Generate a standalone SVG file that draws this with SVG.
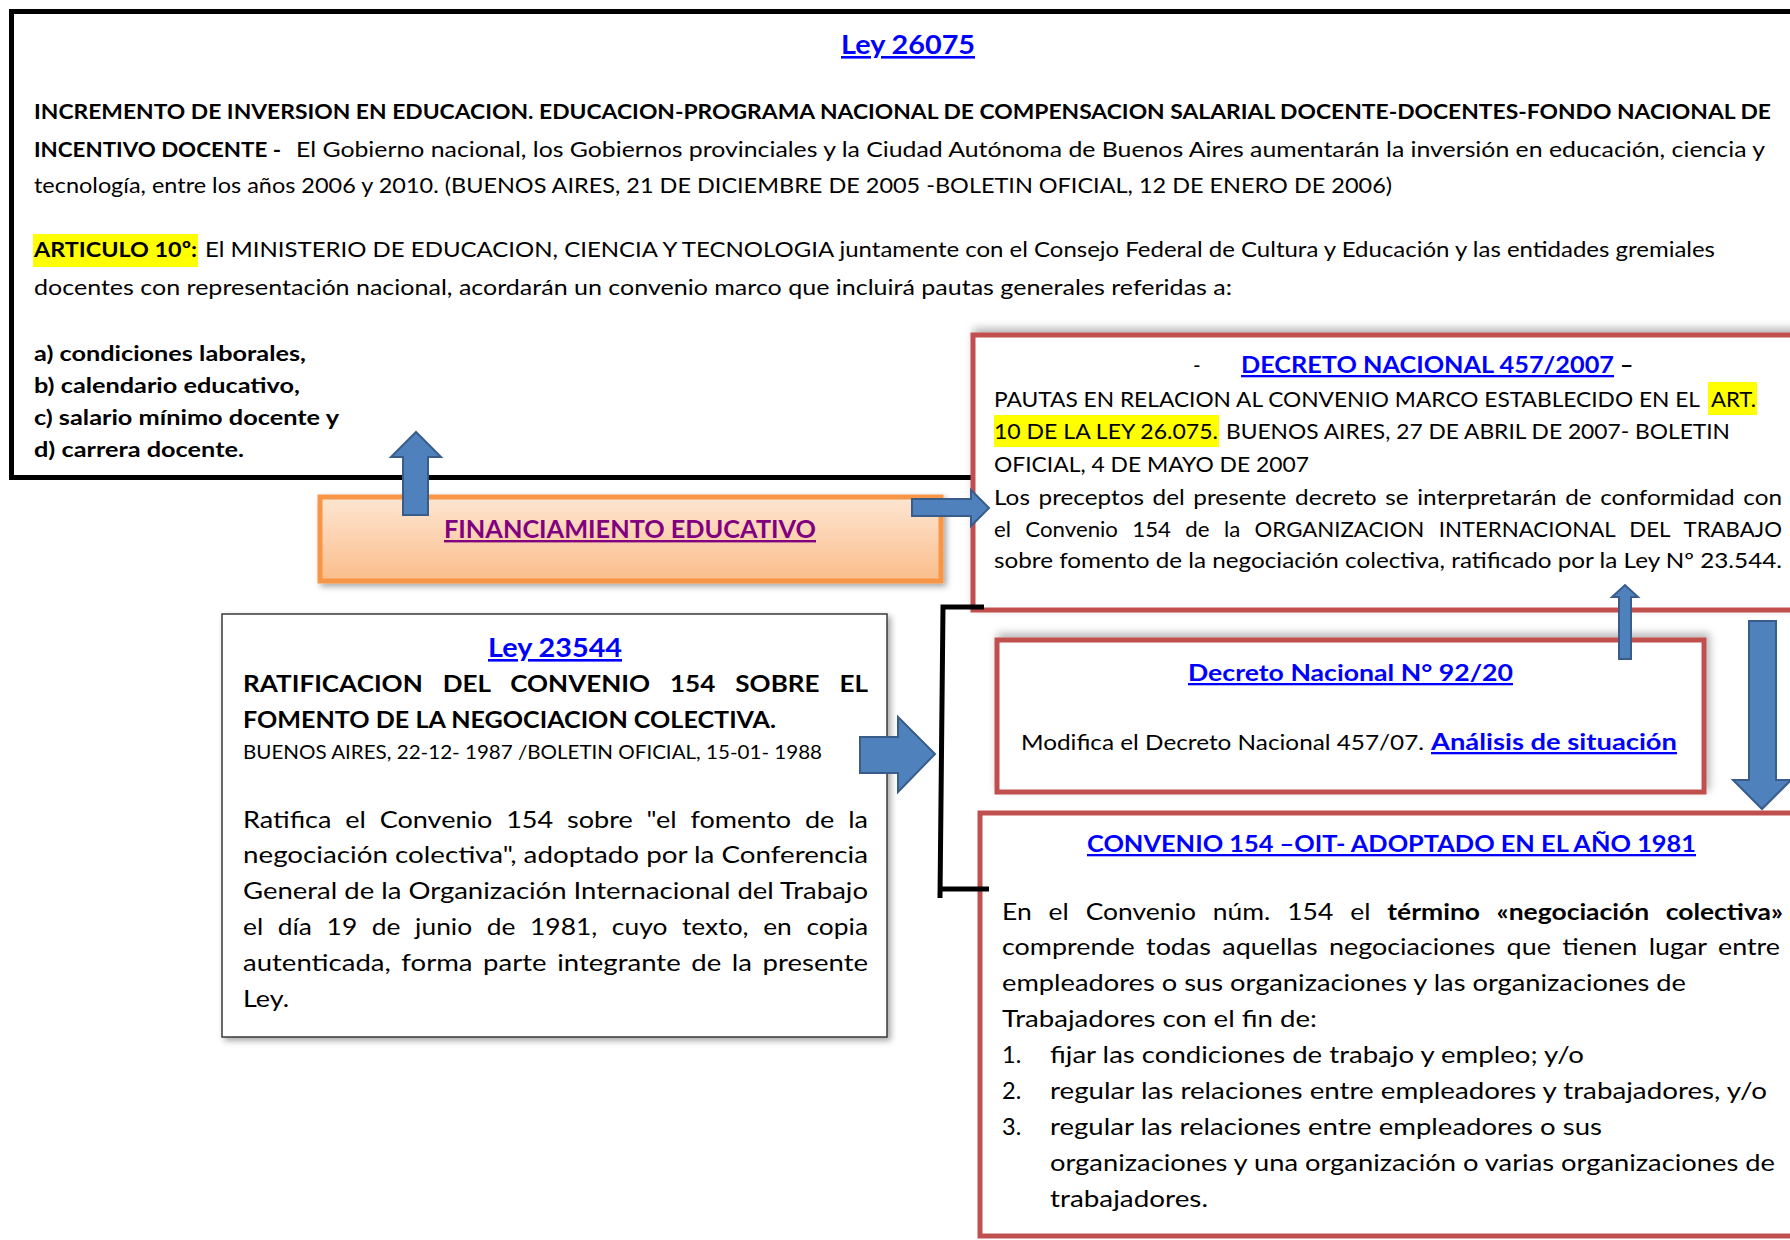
<svg xmlns="http://www.w3.org/2000/svg" width="1790" height="1240" viewBox="0 0 1790 1240">
<defs>
<style>
.t{font-family:Lato,"Liberation Sans",sans-serif;fill:#000}
.b{font-weight:bold}
.lnk{font-weight:bold;fill:#0000ff;text-decoration:underline}
.pur{font-weight:bold;fill:#800080;text-decoration:underline}
.red{fill:#fff;stroke:#c0504d;stroke-width:5}
.arr{fill:#4f81bd;stroke:#385d8a;stroke-width:2;stroke-linejoin:miter}
.hl{fill:#ffff00}
</style>
<linearGradient id="og" x1="0" y1="0" x2="0" y2="1">
<stop offset="0" stop-color="#fde6d2"/>
<stop offset="1" stop-color="#fbbd8b"/>
</linearGradient>
<filter id="sh" x="-5%" y="-10%" width="110%" height="125%">
<feDropShadow dx="3" dy="3" stdDeviation="3" flood-color="#000" flood-opacity="0.35"/>
</filter>
<filter id="shu" x="-5%" y="-15%" width="110%" height="130%">
<feDropShadow dx="3" dy="-4" stdDeviation="4" flood-color="#000" flood-opacity="0.3"/>
</filter>
</defs>
<rect width="1790" height="1240" fill="#fff"/>

<g id="ley26075">
<rect x="11.5" y="11.5" width="1800" height="466" fill="#fff" stroke="#000" stroke-width="5"/>
<text class="t lnk" x="841" y="54" font-size="26" textLength="134" lengthAdjust="spacingAndGlyphs">Ley 26075</text>
<text class="t b" x="34" y="119" font-size="21.5" textLength="1737" lengthAdjust="spacingAndGlyphs">INCREMENTO DE INVERSION EN EDUCACION. EDUCACION-PROGRAMA NACIONAL DE COMPENSACION SALARIAL DOCENTE-DOCENTES-FONDO NACIONAL DE</text>
<text class="t b" x="34" y="157" font-size="21.5" textLength="247" lengthAdjust="spacingAndGlyphs">INCENTIVO DOCENTE -</text>
<text class="t" x="296" y="157" font-size="21.5" textLength="1469" lengthAdjust="spacingAndGlyphs">El Gobierno nacional, los Gobiernos provinciales y la Ciudad Autónoma de Buenos Aires aumentarán la inversión en educación, ciencia y</text>
<text class="t" x="34" y="193" font-size="21.5" textLength="1358" lengthAdjust="spacingAndGlyphs">tecnología, entre los años 2006 y 2010.  (BUENOS AIRES, 21 DE DICIEMBRE DE 2005 -BOLETIN OFICIAL, 12 DE ENERO DE 2006)</text>
<rect class="hl" x="33" y="234" width="165" height="33"/>
<text class="t b" x="34" y="257" font-size="21.5" textLength="163" lengthAdjust="spacingAndGlyphs">ARTICULO 10º:</text>
<text class="t" x="205" y="257" font-size="21.5" textLength="1510" lengthAdjust="spacingAndGlyphs">El MINISTERIO DE EDUCACION, CIENCIA Y TECNOLOGIA juntamente con el Consejo Federal de Cultura y Educación y las entidades gremiales</text>
<text class="t" x="34" y="295" font-size="21.5" textLength="1198" lengthAdjust="spacingAndGlyphs">docentes con representación nacional, acordarán un convenio marco que incluirá pautas generales referidas a:</text>
<text class="t b" x="34" y="361" font-size="21.5" textLength="272" lengthAdjust="spacingAndGlyphs">a) condiciones laborales,</text>
<text class="t b" x="34" y="393" font-size="21.5" textLength="266" lengthAdjust="spacingAndGlyphs">b) calendario educativo,</text>
<text class="t b" x="34" y="425" font-size="21.5" textLength="305" lengthAdjust="spacingAndGlyphs">c) salario mínimo docente y</text>
<text class="t b" x="34" y="457" font-size="21.5" textLength="210" lengthAdjust="spacingAndGlyphs">d) carrera docente.</text>
</g>

<g id="financiamiento">
<rect x="320" y="497" width="621" height="84" fill="url(#og)" stroke="#f79646" stroke-width="5" filter="url(#sh)"/>
<text class="t pur" x="444" y="538" font-size="24" textLength="372" lengthAdjust="spacingAndGlyphs">FINANCIAMIENTO EDUCATIVO</text>
</g>

<g id="decreto457">
<rect class="red" x="973" y="335" width="900" height="275" filter="url(#shu)"/>
<text class="t" x="1193" y="373" font-size="20.5">-</text>
<text class="t lnk" x="1241" y="373" font-size="23" textLength="373" lengthAdjust="spacingAndGlyphs">DECRETO NACIONAL 457/2007</text>
<text class="t b" x="1620" y="373" font-size="23">–</text>
<rect class="hl" x="1708" y="382" width="49" height="33"/>
<rect class="hl" x="994" y="415" width="225" height="32"/>
<text class="t" x="994" y="407" font-size="20.5" textLength="706" lengthAdjust="spacingAndGlyphs">PAUTAS EN RELACION AL CONVENIO MARCO ESTABLECIDO EN EL</text>
<text class="t" x="1711" y="407" font-size="20.5" textLength="45" lengthAdjust="spacingAndGlyphs">ART.</text>
<text class="t" x="994" y="439" font-size="20.5" textLength="224" lengthAdjust="spacingAndGlyphs">10 DE LA LEY 26.075.</text>
<text class="t" x="1226" y="439" font-size="20.5" textLength="504" lengthAdjust="spacingAndGlyphs">BUENOS AIRES, 27 DE ABRIL DE 2007- BOLETIN</text>
<text class="t" x="994" y="472" font-size="20.5" textLength="315" lengthAdjust="spacingAndGlyphs">OFICIAL, 4 DE MAYO DE 2007</text>
<text class="t" x="994" y="505" font-size="20.5" word-spacing="2" textLength="788" lengthAdjust="spacingAndGlyphs">Los preceptos del presente decreto se interpretarán de conformidad con</text>
<text class="t" x="994" y="537" font-size="20.5" word-spacing="8" textLength="788" lengthAdjust="spacingAndGlyphs">el Convenio 154 de la ORGANIZACION INTERNACIONAL DEL TRABAJO</text>
<text class="t" x="994" y="568" font-size="20.5" textLength="788" lengthAdjust="spacingAndGlyphs">sobre fomento de la negociación colectiva, ratificado por la Ley Nº 23.544.</text>
</g>

<g id="decreto92">
<rect class="red" x="997" y="640" width="707" height="152" filter="url(#shu)"/>
<text class="t lnk" x="1188" y="681" font-size="23" textLength="325" lengthAdjust="spacingAndGlyphs">Decreto Nacional N° 92/20</text>
<text class="t" x="1021" y="750" font-size="21.5" textLength="403" lengthAdjust="spacingAndGlyphs">Modifica el Decreto Nacional 457/07.</text>
<text class="t lnk" x="1431" y="750" font-size="23" textLength="246" lengthAdjust="spacingAndGlyphs">Análisis de situación</text>
</g>

<g id="ley23544">
<rect x="222" y="614" width="665" height="423" fill="#fff" stroke="#3a3a3a" stroke-width="1.5" filter="url(#sh)"/>
<text class="t lnk" x="488" y="657" font-size="26" textLength="134" lengthAdjust="spacingAndGlyphs">Ley 23544</text>
<text class="t b" x="243" y="692" font-size="23" word-spacing="12" textLength="625" lengthAdjust="spacingAndGlyphs">RATIFICACION DEL CONVENIO 154 SOBRE EL</text>
<text class="t b" x="243" y="728" font-size="23" textLength="533" lengthAdjust="spacingAndGlyphs">FOMENTO DE LA NEGOCIACION COLECTIVA.</text>
<text class="t" x="243" y="759" font-size="19.5" textLength="579" lengthAdjust="spacingAndGlyphs">BUENOS AIRES, 22-12- 1987 /BOLETIN OFICIAL, 15-01- 1988</text>
<text class="t" x="243" y="828" font-size="23.5" word-spacing="6" textLength="625" lengthAdjust="spacingAndGlyphs">Ratifica el Convenio 154 sobre "el fomento de la</text>
<text class="t" x="243" y="863" font-size="23.5" textLength="625" lengthAdjust="spacingAndGlyphs">negociación colectiva", adoptado por la Conferencia</text>
<text class="t" x="243" y="899" font-size="23.5" textLength="625" lengthAdjust="spacingAndGlyphs">General de la Organización Internacional del Trabajo</text>
<text class="t" x="243" y="935" font-size="23.5" word-spacing="7" textLength="625" lengthAdjust="spacingAndGlyphs">el día 19 de junio de 1981, cuyo texto, en copia</text>
<text class="t" x="243" y="971" font-size="23.5" word-spacing="3" textLength="625" lengthAdjust="spacingAndGlyphs">autenticada, forma parte integrante de la presente</text>
<text class="t" x="243" y="1007" font-size="23.5" textLength="46" lengthAdjust="spacingAndGlyphs">Ley.</text>
</g>

<g id="convenio154">
<rect class="red" x="980" y="813" width="900" height="423"/>
<text class="t lnk" x="1087" y="852" font-size="23" textLength="609" lengthAdjust="spacingAndGlyphs">CONVENIO 154 –OIT- ADOPTADO EN EL AÑO 1981</text>
<text class="t" x="1002" y="920" font-size="23.5" word-spacing="9" textLength="781" lengthAdjust="spacingAndGlyphs">En el Convenio núm. 154 el <tspan class="b">término «negociación colectiva»</tspan></text>
<text class="t" x="1002" y="955" font-size="23.5" word-spacing="4" textLength="778" lengthAdjust="spacingAndGlyphs">comprende todas aquellas negociaciones que tienen lugar entre</text>
<text class="t" x="1002" y="991" font-size="23.5" textLength="684" lengthAdjust="spacingAndGlyphs">empleadores o sus organizaciones y las organizaciones de</text>
<text class="t" x="1002" y="1027" font-size="23.5" textLength="315" lengthAdjust="spacingAndGlyphs">Trabajadores con el fin de:</text>
<text class="t" x="1002" y="1063" font-size="23.5">1.</text>
<text class="t" x="1050" y="1063" font-size="23.5" textLength="534" lengthAdjust="spacingAndGlyphs">fijar las condiciones de trabajo y empleo; y/o</text>
<text class="t" x="1002" y="1099" font-size="23.5">2.</text>
<text class="t" x="1050" y="1099" font-size="23.5" textLength="717" lengthAdjust="spacingAndGlyphs">regular las relaciones entre empleadores y trabajadores, y/o</text>
<text class="t" x="1002" y="1135" font-size="23.5">3.</text>
<text class="t" x="1050" y="1135" font-size="23.5" textLength="552" lengthAdjust="spacingAndGlyphs">regular las relaciones entre empleadores o sus</text>
<text class="t" x="1050" y="1171" font-size="23.5" textLength="725" lengthAdjust="spacingAndGlyphs">organizaciones y una organización o varias organizaciones de</text>
<text class="t" x="1050" y="1207" font-size="23.5" textLength="158" lengthAdjust="spacingAndGlyphs">trabajadores.</text>
</g>

<g id="connectors">
<polygon class="arr" points="403,515 403,457 391,457 416,432 441,457 428,457 428,515"/>
<polygon class="arr" points="912,499 971,499 971,490 989,508 971,526 971,516 912,516"/>
<path d="M984,607 H943 L940,898" fill="none" stroke="#000" stroke-width="5"/>
<path d="M940,889 H989" fill="none" stroke="#000" stroke-width="5"/>
<polygon class="arr" points="860,737 898,737 898,717 935,754 898,792 898,773 860,773"/>
<polygon class="arr" points="1619,659 1619,597 1612,597 1625,585 1638,597 1631,597 1631,659"/>
<polygon class="arr" points="1749,621 1776,621 1776,780 1791,780 1762,809 1733,780 1749,780"/>
</g>
</svg>
